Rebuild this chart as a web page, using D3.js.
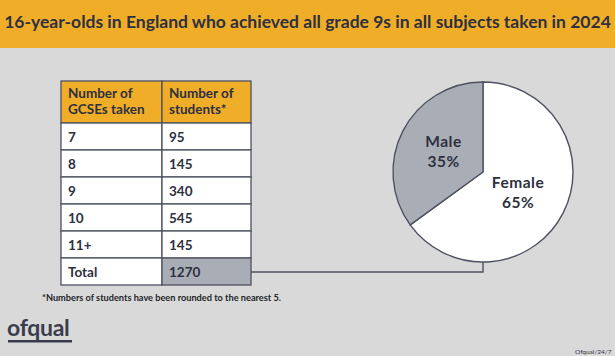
<!DOCTYPE html>
<html><head><meta charset="utf-8">
<script src="https://cdn.jsdelivr.net/npm/d3@7"></script>
<style>
html,body{margin:0;padding:0;background:#d9d9d9;}
svg{display:block;font-family:Lato,"Open Sans",sans-serif;}
</style></head>
<body>
<svg id="c" width="615" height="356"></svg>
<script>
const title = "16-year-olds in England who achieved all grade 9s in all subjects taken in 2024";
const tableHeaders = ["Number of\nGCSEs taken", "Number of\nstudents*"];
const gcsesTaken = ["7", "8", "9", "10", "11+"];
const students = [95, 145, 340, 545, 145];
const totalLabel = "Total";
const totalStudents = 1270;
const sexes = ["Female", "Male"];
const sexShares = [65, 35];
const footnote = "*Numbers of students have been rounded to the nearest 5.";
const logoText = "ofqual";
const refText = "Ofqual/24/7";

const ink = "#2e3040", orange = "#f0ae28", grey = "#a9adb6", border = "#4d5160";
const svg = d3.select("#c");
svg.append("rect").attr("width",615).attr("height",356).attr("fill","#d9d9d9");
svg.append("rect").attr("width",615).attr("height",48).attr("fill",orange);
svg.append("text").attr("x",307.5).attr("y",27.5).attr("text-anchor","middle")
  .attr("font-size",17.5).attr("font-weight",700).attr("fill",ink).text(title);

// table
const tx = 61, colW = [101, 89], headH = 42, rowH = 27, ty = 81;
const rows = gcsesTaken.map((g,i)=>[g, String(students[i])]);
rows.push([totalLabel, String(totalStudents)]);
const y = d3.scaleLinear().domain([0,1]).range([ty+headH, ty+headH+rowH]);
const tg = svg.append("g");
[0,1].forEach(c=>{
  const x0 = tx + (c?colW[0]:0);
  tg.append("rect").attr("x",x0).attr("y",ty).attr("width",colW[c]).attr("height",headH)
    .attr("fill",orange).attr("stroke",border).attr("stroke-width",1.3);
  const t = tg.append("text").attr("x",x0+7).attr("y",ty+17).attr("font-size",13.5)
    .attr("font-weight",700).attr("fill",ink);
  tableHeaders[c].split("\n").forEach((l,k)=>t.append("tspan").attr("x",x0+7).attr("dy",k?15.5:0).text(l));
});
rows.forEach((r,i)=>{
  [0,1].forEach(c=>{
    const x0 = tx + (c?colW[0]:0);
    const isTotalVal = i===rows.length-1 && c===1;
    tg.append("rect").attr("x",x0).attr("y",y(i)).attr("width",colW[c]).attr("height",rowH)
      .attr("fill",isTotalVal?grey:"#fff").attr("stroke",border).attr("stroke-width",1.3);
    tg.append("text").attr("x",x0+7).attr("y",y(i)+rowH/2+5).attr("font-size",13.5)
      .attr("font-weight",700).attr("fill",ink).text(r[c]);
  });
});

// pie
const cx = 483, cy = 172, R = 90;
const pie = d3.pie().sort(null).value(d=>d.v).startAngle(0).endAngle(2*Math.PI);
const data = sexes.map((s,i)=>({s, v:sexShares[i]}));
const arcs = pie(data);
const arc = d3.arc().innerRadius(0).outerRadius(R);
const pg = svg.append("g").attr("transform",`translate(${cx},${cy})`);
pg.selectAll("path").data(arcs).join("path").attr("d",arc)
  .attr("fill",d=>d.data.s==="Male"?grey:"#fff").attr("stroke",border).attr("stroke-width",1.4);
const labelPos = {Female:[35,16], Male:[-39.5,-25]};
arcs.forEach(d=>{
  const [lx,ly] = labelPos[d.data.s];
  const t = pg.append("text").attr("text-anchor","middle").attr("font-size",15.5)
    .attr("letter-spacing",0.5).attr("font-weight",700).attr("fill",ink);
  t.append("tspan").attr("x",lx).attr("y",ly).text(d.data.s);
  t.append("tspan").attr("x",lx).attr("y",ly+20).text(d.data.v+"%");
});

// connector
const ly = y(rows.length-1)+rowH/2+0.5;
svg.append("path").attr("d",`M${tx+colW[0]+colW[1]},${ly}H${cx}V${cy+R}`)
  .attr("fill","none").attr("stroke",border).attr("stroke-width",1.4);

svg.append("text").attr("x",42).attr("y",300.5).attr("font-size",9.2).attr("font-weight",700)
  .attr("fill","#1e1f28").text(footnote);
svg.append("text").attr("x",7).attr("y",336).attr("font-size",23).attr("font-weight",700)
  .attr("fill","#3a3d4c").attr("letter-spacing",-0.3).text(logoText);
svg.append("rect").attr("x",8).attr("y",340).attr("width",64).attr("height",2.5).attr("fill","#3a3d4c");
svg.append("text").attr("x",575).attr("y",354).attr("font-size",6.5).attr("fill","#2e3040").text(refText);
</script>
</body></html>
